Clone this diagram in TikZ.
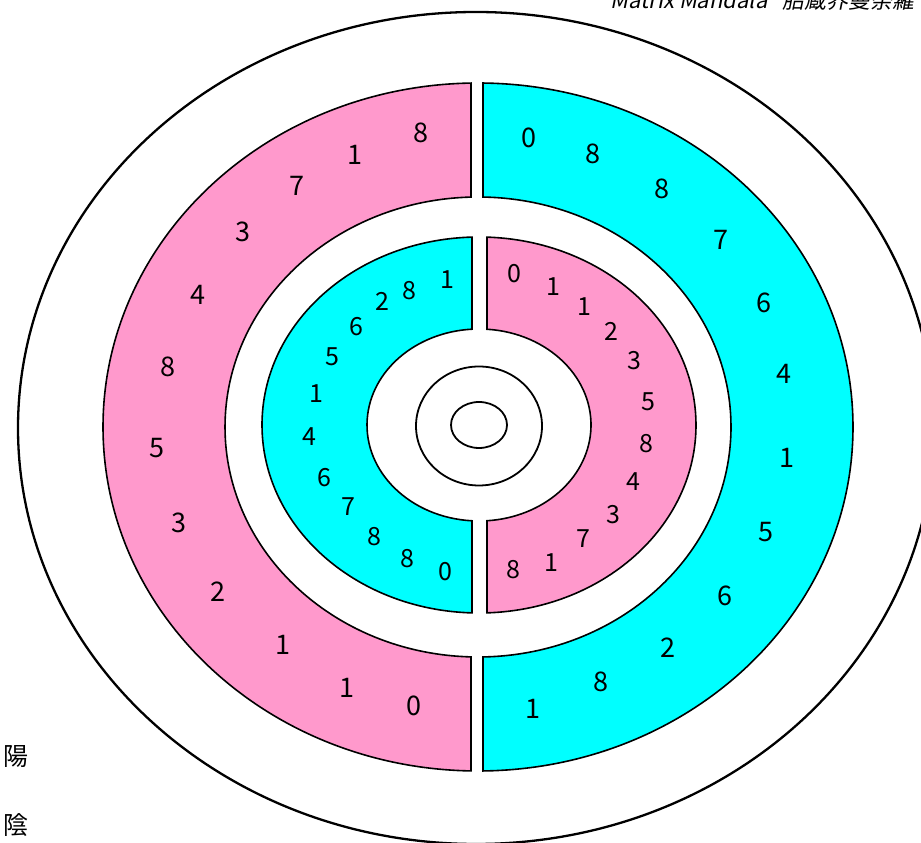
\documentclass[tikz,border=0pt]{standalone}
\usepackage{fontspec}
\setmainfont{Noto Sans CJK JP}
\newfontfamily\titlefont[FakeSlant=0.2]{Noto Sans CJK JP}
\definecolor{bandpink}{RGB}{255,153,204}
\definecolor{bandcyan}{RGB}{0,255,255}
\begin{document}
\begin{tikzpicture}[x=1pt,y=1pt,
  band/.style={draw=black, line width=1.6pt, line join=miter},
  ring/.style={draw=black, line width=1.8pt},
  odig/.style={inner sep=0pt, font=\fontsize{27}{27}\selectfont},
  idig/.style={inner sep=0pt, font=\fontsize{25}{25}\selectfont},
  kanji/.style={inner sep=0pt, anchor=west, font=\fontsize{25}{25}\selectfont}]
\useasboundingbox (0,0) rectangle (921,843);
% outermost ellipse
\draw[line width=2.3pt] (476,415) ellipse[x radius=458, y radius=416];
% outer band
\pgfmathsetmacro\tA{acos((471-478)/375)}
\pgfmathsetmacro\tB{acos((471-478)/253)}
\pgfmathsetmacro\tC{acos((483-478)/375)}
\pgfmathsetmacro\tD{acos((483-478)/253)}
\path[band, fill=bandpink] ({478+375*cos(\tA)},{416+344*sin(\tA)})
  arc[start angle=\tA, end angle={360-\tA}, x radius=375, y radius=344]
  -- ({478+253*cos(\tB)},{416-230*sin(\tB)})
  arc[start angle={360-\tB}, end angle=\tB, x radius=253, y radius=230] -- cycle;
\path[band, fill=bandcyan] ({478+375*cos(\tC)},{416-344*sin(\tC)})
  arc[start angle={-\tC}, end angle=\tC, x radius=375, y radius=344]
  -- ({478+253*cos(\tD)},{416+230*sin(\tD)})
  arc[start angle=\tD, end angle={-\tD}, x radius=253, y radius=230] -- cycle;
% inner band
\pgfmathsetmacro\tE{acos((472-479)/217)}
\pgfmathsetmacro\tF{acos((472-479)/112)}
\pgfmathsetmacro\tG{acos((487-479)/217)}
\pgfmathsetmacro\tH{acos((487-479)/112)}
\path[band, fill=bandcyan] ({479+217*cos(\tE)},{418+188*sin(\tE)})
  arc[start angle=\tE, end angle={360-\tE}, x radius=217, y radius=188]
  -- ({479+112*cos(\tF)},{418-96*sin(\tF)})
  arc[start angle={360-\tF}, end angle=\tF, x radius=112, y radius=96] -- cycle;
\path[band, fill=bandpink] ({479+217*cos(\tG)},{418-188*sin(\tG)})
  arc[start angle={-\tG}, end angle=\tG, x radius=217, y radius=188]
  -- ({479+112*cos(\tH)},{418+96*sin(\tH)})
  arc[start angle=\tH, end angle={-\tH}, x radius=112, y radius=96] -- cycle;
% central ellipses
\draw[ring] (479,417) ellipse[x radius=63, y radius=59.5];
\draw[ring] (479,418) ellipse[x radius=28, y radius=23];
% outer pink digits
\foreach \n/\x/\y/\t in {1/421/710/8, 2/355/688/1, 3/297/657/7, 4/243/611/3,
  5/198/548/4, 6/168/476/8, 7/157/395/5, 8/179/320/3, 9/218/251/2,
  10/283/198/1, 11/347/155/1, 12/414/137/0}
  \node[odig] (po\n) at (\x,\y) {\t};
% outer cyan digits
\foreach \n/\x/\y/\t in {1/529/705/0, 2/593/689/8, 3/662/654/8, 4/721/603/7,
  5/764/540/6, 6/784/469/4, 7/787/385/1, 8/766/311/5, 9/725/247/6,
  10/668/195/2, 11/601/161/8, 12/533/134/1}
  \node[odig] (co\n) at (\x,\y) {\t};
% inner cyan digits
\foreach \n/\x/\y/\t in {1/447/563/1, 2/409/552/8, 3/382/542/2, 4/356/516/6,
  5/332/486/5, 6/316/449/1, 7/309/406/4, 8/324/365/6, 9/348/336/7,
  10/374/306/8, 11/407/284/8, 12/445/271/0}
  \node[idig] (ci\n) at (\x,\y) {\t};
% inner pink digits
\foreach \n/\x/\y/\t in {1/514/569/0, 2/553/556/1, 3/584/536/1, 4/611/512/2,
  5/634/482/3, 6/648/441/5, 7/646/399/8, 8/633/361/4, 9/613/328/3,
  10/583/304/7, 11/551/280/1, 12/513/273/8}
  \node[idig] (pi\n) at (\x,\y) {\t};
% labels
\node[kanji] (yang) at (3,86) {陽};
\node[kanji] (yin) at (3,18) {陰};
\node[anchor=base east, inner sep=0pt, font=\titlefont\fontsize{22}{22}\selectfont] (title) at (915,834) {"Matrix Mandala" 胎蔵界曼荼羅};
\end{tikzpicture}
\end{document}
